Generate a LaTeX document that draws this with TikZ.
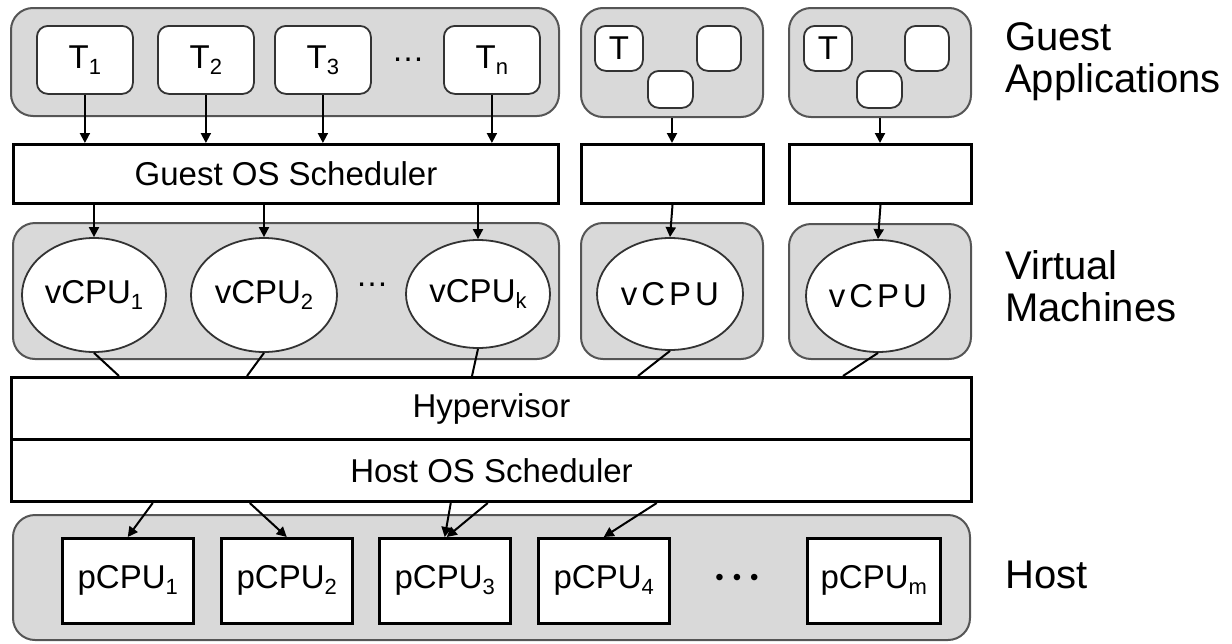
\documentclass[tikz,border=0pt]{standalone}
\usepackage{fontspec}
\setmainfont{Liberation Sans}
\usetikzlibrary{arrows.meta,shapes.geometric,calc}
\definecolor{grpfill}{HTML}{D9D9D9}
\definecolor{grpline}{HTML}{555555}
\definecolor{boxline}{HTML}{333333}
\newcommand\sbs[1]{\raisebox{-6pt}{\fontsize{22}{22}\selectfont #1}}
\begin{document}
\begin{tikzpicture}[x=1pt,y=-1pt,
  txt/.style={font=\fontsize{33}{36}\selectfont},
  grp/.style={draw=grpline, fill=grpfill, line width=2pt, rounded corners=22pt,
    inner sep=0pt, anchor=north west},
  task/.style={draw=boxline, fill=white, line width=1.8pt, rounded corners=11pt,
    inner sep=0pt, anchor=north west, txt},
  sched/.style={draw=black, fill=white, line width=3pt, inner sep=0pt,
    anchor=north west, txt},
  cpu/.style={ellipse, draw=boxline, fill=white, line width=1.8pt, inner sep=0pt, txt},
  pcpu/.style={draw=black, fill=white, line width=2.5pt, inner sep=0pt,
    anchor=north west, minimum width=131pt, minimum height=85pt, txt},
  arr/.style={-{Triangle[length=10pt,width=10pt]}, line width=2pt, black},
  link/.style={line width=2pt, black},
  lbl/.style={anchor=north west, align=left, inner sep=0pt,
    font=\fontsize{40}{42}\selectfont},
  dots/.style={inner sep=0pt, txt}]
\useasboundingbox (0,0) rectangle (1232,643);

% ---- guest applications ----
\node[grp, minimum width=548pt, minimum height=108pt] (app1) at (10,7) {};
\node[grp, minimum width=182pt, minimum height=109pt] (app2) at (580,7) {};
\node[grp, minimum width=182pt, minimum height=109pt] (app3) at (788,7) {};

\node[task, minimum width=96pt, minimum height=68pt] (t1) at (36,25) {T\sbs{1}};
\node[task, minimum width=96pt, minimum height=68pt] (t2) at (157,25) {T\sbs{2}};
\node[task, minimum width=96pt, minimum height=68pt] (t3) at (274,25) {T\sbs{3}};
\node[dots] (tdots) at (408,60) {…};
\node[task, minimum width=96pt, minimum height=68pt] (tn) at (443,25) {T\sbs{n}};

\node[task, minimum width=48pt, minimum height=45pt] (a2t) at (594,25) {T};
\node[task, minimum width=44pt, minimum height=45pt] (a2r) at (696,25) {};
\node[task, minimum width=45pt, minimum height=37pt] (a2b) at (647,70) {};
\node[task, minimum width=48pt, minimum height=45pt] (a3t) at (803,25) {T};
\node[task, minimum width=44pt, minimum height=45pt] (a3r) at (904,25) {};
\node[task, minimum width=45pt, minimum height=37pt] (a3b) at (856,70) {};

% ---- guest schedulers ----
\node[sched, minimum width=545pt, minimum height=59pt] (gs1) at (12,143) {Guest OS Scheduler};
\node[sched, minimum width=182pt, minimum height=59pt] (gs2) at (580,143) {};
\node[sched, minimum width=182pt, minimum height=59pt] (gs3) at (788,143) {};

\foreach \t in {t1,t2,t3,tn}
  \draw[arr] (\t.south) -- (\t.south |- gs1.north);
\draw[arr] (app2.south) -- (app2.south |- gs2.north);
\draw[arr] (app3.south) -- (app3.south |- gs3.north);

% ---- virtual machines ----
\node[grp, minimum width=546pt, minimum height=136pt] (vm1) at (12,222) {};
\node[grp, minimum width=182pt, minimum height=136pt] (vm2) at (580,222) {};
\node[grp, minimum width=182pt, minimum height=135pt] (vm3) at (788,223) {};

\node[cpu, minimum width=144pt, minimum height=114pt] (v1) at (94,295) {vCPU\sbs{1}};
\node[cpu, minimum width=146pt, minimum height=114pt] (v2) at (264,295) {vCPU\sbs{2}};
\node[dots] (vdots) at (372,285) {…};
\node[cpu, minimum width=144pt, minimum height=108pt] (vk) at (478,294) {vCPU\sbs{k}};
\node[cpu, minimum width=146pt, minimum height=112pt] (vb) at (670,294) {v\kern4pt C\kern4pt P\kern4pt U};
\node[cpu, minimum width=144pt, minimum height=112pt] (vc) at (878,296) {v\kern4pt C\kern4pt P\kern4pt U};

\foreach \v in {v1,v2,vk}
  \draw[arr] (\v.north |- gs1.south) -- (\v.north);
\draw[arr] (gs2.south) -- (vb.north);
\draw[arr] (gs3.south) -- (vc.north);

% ---- hypervisor and host scheduler ----
\node[sched, minimum width=960pt, minimum height=62pt] (hyp) at (10,376) {Hypervisor};
\node[sched, minimum width=960pt, minimum height=62pt] (hos) at (10,438) {Host OS Scheduler};

\draw[link] (v1.south) -- ([xshift=25pt]v1.south |- hyp.north);
\draw[link] (v2.south) -- ([xshift=-17pt]v2.south |- hyp.north);
\draw[link] (vk.south) -- ([xshift=-6pt]vk.south |- hyp.north);
\draw[link] (vb.south) -- ([xshift=-32pt]vb.south |- hyp.north);
\draw[link] (vc.south) -- ([xshift=-35pt]vc.south |- hyp.north);

% ---- host ----
\node[grp, minimum width=957pt, minimum height=125pt] (host) at (12,514) {};
\node[pcpu] (p1) at (61,537) {pCPU\sbs{1}};
\node[pcpu] (p2) at (220,537) {pCPU\sbs{2}};
\node[pcpu] (p3) at (378,537) {pCPU\sbs{3}};
\node[pcpu] (p4) at (537,537) {pCPU\sbs{4}};
\node[inner sep=0pt, font=\fontsize{24}{24}\selectfont] (pdots) at (737,580) {•\hspace{9pt}•\hspace{9pt}•};
\node[pcpu, minimum width=133pt] (pm) at (806,537) {pCPU\sbs{m}};

\draw[arr] ([xshift=25pt]p1.north |- hos.south) -- (p1.north);
\draw[arr] ([xshift=-37pt]p2.north |- hos.south) -- (p2.north);
\draw[arr] ([xshift=6pt]p3.north |- hos.south) -- (p3.north);
\draw[arr] ([xshift=43pt]p3.north |- hos.south) -- ([xshift=2pt]p3.north);
\draw[arr] ([xshift=53pt]p4.north |- hos.south) -- (p4.north);

% ---- layer labels ----
\node[lbl] (lga) at (1005,22) {Guest\\Applications};
\node[lbl] (lvm) at (1005,250) {Virtual\\Machines};
\node[lbl] (lh) at (1005,561) {Host};
\end{tikzpicture}
\end{document}
